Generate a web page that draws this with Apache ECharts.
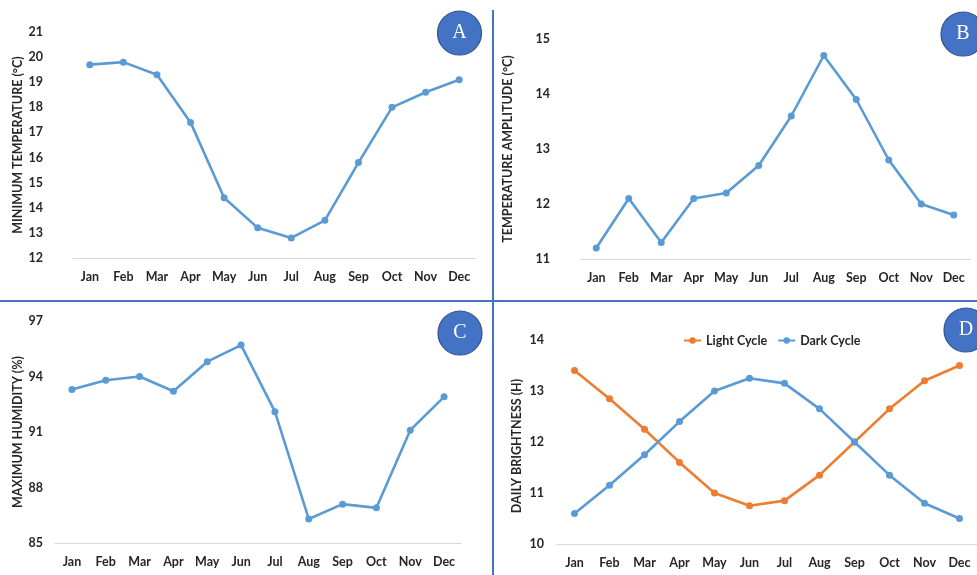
<!DOCTYPE html>
<html><head><meta charset="utf-8">
<script src="https://cdn.jsdelivr.net/npm/echarts@6/dist/echarts.min.js"></script>
<style>html,body{margin:0;padding:0;background:#fff}#c{width:977px;height:575px}</style>
</head><body><div id="c"></div>
<script>
const months = ['Jan','Feb','Mar','Apr','May','Jun','Jul','Aug','Sep','Oct','Nov','Dec'];
const minTemp = [19.7,19.8,19.3,17.4,14.4,13.2,12.8,13.5,15.8,18.0,18.6,19.1];
const tempAmplitude = [11.2,12.1,11.3,12.1,12.2,12.7,13.6,14.7,13.9,12.8,12.0,11.8];
const maxHumidity = [93.3,93.8,94.0,93.2,94.8,95.7,92.1,86.3,87.1,86.9,91.1,92.9];
const lightCycle = [13.4,12.85,12.25,11.6,11.0,10.75,10.85,11.35,12.0,12.65,13.2,13.5];
const darkCycle = [10.6,11.15,11.75,12.4,13.0,13.25,13.15,12.65,12.0,11.35,10.8,10.5];
const humidityTicks = [85,88,91,94,97];

const BLUE = '#5B9BD5', ORANGE = '#ED7D31';
const FONT = 'Lato';
const lbl = {fontFamily: FONT, fontWeight: 'bold', fontSize: 12.5, color: '#262626'};

function xAx(i){
  return {type:'category', gridIndex:i, data:months, boundaryGap:true,
    axisLine:{lineStyle:{color:'#d9d9d9'}}, axisTick:{show:false},
    axisLabel:Object.assign({margin:12, interval:0}, lbl)};
}
function yAx(i, name, min, max, interval, margin, gap, pad){
  return {type:'value', gridIndex:i, min:min, max:max, interval:interval,
    axisLine:{show:false}, axisTick:{show:false}, splitLine:{show:false},
    axisLabel:Object.assign({margin:margin}, lbl),
    name:name, nameLocation:'middle', nameGap:gap, nameRotate:90,
    nameTextStyle:{fontFamily:FONT, fontWeight:'bold', fontSize:12.5, color:'#262626', padding:pad||0}};
}
function line(i, name, data, color){
  return {type:'line', name:name, xAxisIndex:i, yAxisIndex:i, data:data,
    symbol:'circle', symbolSize:7, lineStyle:{color:color, width:2.6},
    itemStyle:{color:color}, z:3};
}
function badge(cx, cy, t){
  return [{type:'circle', shape:{cx:cx, cy:cy, r:22}, style:{fill:'#4472C4', stroke:'#2F528F', lineWidth:1.2}, z:10},
          {type:'text', x:cx, y:cy, style:{text:t, fill:'#fff', font:'20px "Liberation Serif"', textAlign:'center', textVerticalAlign:'middle'}, z:11}];
}

const chart = echarts.init(document.getElementById('c'));
const humAxis = yAx(2,'MAXIMUM HUMIDITY (%)',85,97,null,12,29);
humAxis.axisLabel.customValues = humidityTicks;
chart.setOption({
  animation:false,
  grid:[
    {left:73, right:501, top:32, height:226},
    {left:580, right:7, top:39, height:220},
    {left:55, right:516, top:321, height:222},
    {left:557, right:0, top:340, height:204}
  ],
  xAxis:[xAx(0), xAx(1), xAx(2), xAx(3)],
  yAxis:[
    yAx(0,'MINIMUM TEMPERATURE (°C)',12,21,1,30,45),
    yAx(1,'TEMPERATURE AMPLITUDE (°C)',11,15,1,30,66),
    humAxis,
    yAx(3,'DAILY BRIGHTNESS (H)',10,14,1,13,34,[0,8,0,0])
  ],
  legend:{data:['Light Cycle','Dark Cycle'], left:678, top:329, itemWidth:17, itemHeight:8, itemGap:10,
    textStyle:{fontFamily:FONT, fontWeight:'bold', fontSize:12.5, color:'#262626'}},
  series:[
    line(0,'Minimum Temperature',minTemp,BLUE),
    line(1,'Temperature Amplitude',tempAmplitude,BLUE),
    line(2,'Maximum Humidity',maxHumidity,BLUE),
    line(3,'Light Cycle',lightCycle,ORANGE),
    line(3,'Dark Cycle',darkCycle,BLUE)
  ],
  graphic:[
    {type:'line', shape:{x1:493, y1:10, x2:493, y2:575}, style:{stroke:'#4472C4', lineWidth:2}},
    {type:'line', shape:{x1:0, y1:301, x2:977, y2:301}, style:{stroke:'#4472C4', lineWidth:2}},
    ...badge(459.5,33,'A'), ...badge(963,34,'B'), ...badge(460,333,'C'), ...badge(966,330,'D')
  ]
});
</script></body></html>
